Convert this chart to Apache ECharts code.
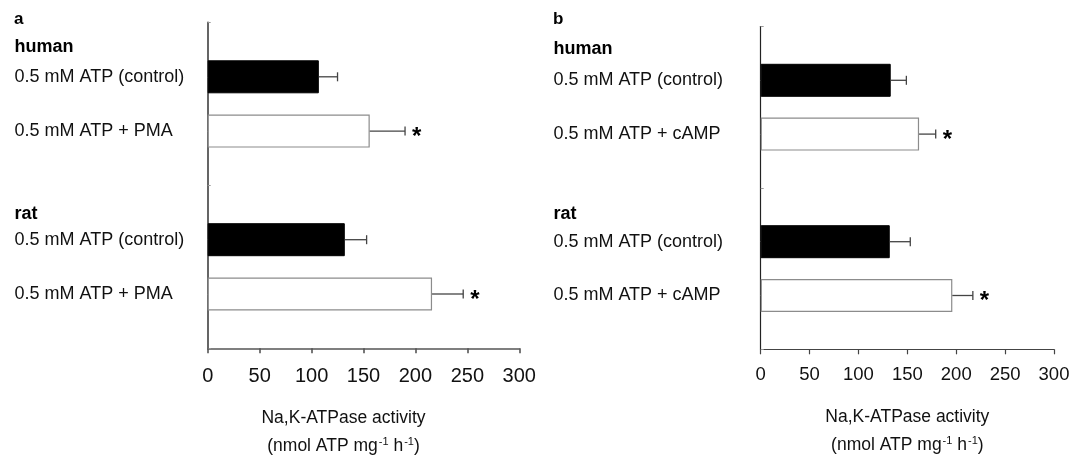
<!DOCTYPE html>
<html>
<head>
<meta charset="utf-8">
<script src="https://cdn.jsdelivr.net/npm/echarts@6/dist/echarts.min.js"></script>
<style>
html,body{margin:0;padding:0;background:#fff;}
#c{width:1070px;height:455px;}
</style>
</head>
<body>
<div id="c"></div>
<script>
// ---- data ----
const xTicks = [0, 50, 100, 150, 200, 250, 300];
const groups = ['human', 'rat'];
const condA = ['0.5 mM ATP (control)', '0.5 mM ATP + PMA'];
const condB = ['0.5 mM ATP (control)', '0.5 mM ATP + cAMP'];
// order: human control, human treated, rat control, rat treated
const meanA = [107, 156, 132, 216];
const semA  = [18, 34, 21, 30];
const meanB = [133, 162, 132, 196];
const semB  = [16, 17, 21, 21];
const signif = [false, true, false, true];

const FONT = 'Liberation Sans, Arial, sans-serif';

// build 7-slot category list: gap, ctrl, treat, gap, ctrl, treat, gap
function slots(cond) {
  return ['', cond[0], cond[1], '', cond[0], cond[1], ''];
}
const slotIndex = [1, 2, 4, 5];

function barData(means) {
  const d = [null, null, null, null, null, null, null];
  means.forEach((m, i) => {
    const ctrl = i % 2 === 0;
    d[slotIndex[i]] = {
      value: m,
      itemStyle: ctrl
        ? { color: '#000', borderColor: '#000', borderWidth: 1 }
        : { color: '#fff', borderColor: '#8c8c8c', borderWidth: 1.2 }
    };
  });
  return d;
}
function errData(means, sems) {
  return means.map((m, i) => [m, slotIndex[i], sems[i], signif[i] ? 1 : 0]);
}

function renderErr(params, api) {
  const m = api.value(0), c = api.value(1), s = api.value(2), sig = api.value(3);
  const p0 = api.coord([m, c]);
  const p1 = api.coord([m + s, c]);
  const cap = 4.5;
  const children = [
    { type: 'line', shape: { x1: p0[0], y1: p0[1], x2: p1[0], y2: p1[1] },
      style: { stroke: '#444', lineWidth: 1.3 } },
    { type: 'line', shape: { x1: p1[0], y1: p1[1] - cap, x2: p1[0], y2: p1[1] + cap },
      style: { stroke: '#444', lineWidth: 1.3 } }
  ];
  if (sig) {
    children.push({ type: 'text', style: { text: '*', x: p1[0] + 7, y: p1[1] + 6,
      font: 'bold 24px ' + FONT, fill: '#000', align: 'left', verticalAlign: 'middle' } });
  }
  return { type: 'group', children };
}

function xAxisCfg(gridIndex, fs, margin, nameGap, lw, col, padRight) {
  return {
    type: 'value', gridIndex, min: 0, max: 300, interval: 50,
    axisLine: { show: true, lineStyle: { color: col, width: lw } },
    axisTick: { show: true, length: 5, lineStyle: { color: col, width: lw } },
    splitLine: { show: false },
    axisLabel: { fontSize: fs, color: '#111', fontFamily: FONT, margin,
      customValues: xTicks },
    name: '{n|Na,K-ATPase activity}\n{n|(nmol ATP mg}{s|-1}{n| h}{s|-1}{n|)}',
    nameLocation: 'middle', nameGap,
    nameTextStyle: {
      fontFamily: FONT, color: '#111', padding: [0, padRight, 0, 0],
      rich: {
        n: { fontSize: 17.5, fontFamily: FONT, color: '#111', lineHeight: 28 },
        s: { fontSize: 11, fontFamily: FONT, color: '#111', lineHeight: 28, verticalAlign: 'top', padding: [4, 0, 0, 1] }
      }
    }
  };
}
function yAxisCfg(gridIndex, cond, margin, lw, col) {
  return {
    type: 'category', gridIndex, data: slots(cond), inverse: true, boundaryGap: false,
    axisLine: { show: true, lineStyle: { color: col, width: lw } },
    axisTick: { show: true, inside: true, length: 3, lineStyle: { color: '#999' } },
    axisLabel: { align: 'left', margin, fontSize: 18, color: '#111', fontFamily: FONT,
      interval: 0, padding: [3, 0, 0, 0] },
    splitLine: { show: false }
  };
}

const chart = echarts.init(document.getElementById('c'), null, { renderer: 'canvas' });
const option = {
  backgroundColor: '#fff',
  animation: false,
  grid: [
    { left: 207.7, top: 22.5, width: 311.6, height: 325.8, containLabel: false, outerBoundsMode: 'none' },
    { left: 760.7, top: 26.5, width: 293.3, height: 322.8, containLabel: false, outerBoundsMode: 'none' }
  ],
  xAxis: [
    xAxisCfg(0, 20, 18, 56, 1.6, '#555', 40),
    xAxisCfg(1, 18.5, 16, 54, 1.2, '#444', 0)
  ],
  yAxis: [
    yAxisCfg(0, condA, 193.2, 1.8, '#555'),
    yAxisCfg(1, condB, 207.3, 1.2, '#222')
  ],
  graphic: [
    { type: 'text', left: 14, top: 11, style: { text: 'a', font: 'bold 17px ' + FONT, fill: '#000' } },
    { type: 'text', left: 553, top: 11, style: { text: 'b', font: 'bold 17px ' + FONT, fill: '#000' } },
    { type: 'text', left: 14.5, top: 38, style: { text: groups[0], font: 'bold 18px ' + FONT, fill: '#000' } },
    { type: 'text', left: 14.5, top: 205, style: { text: groups[1], font: 'bold 18px ' + FONT, fill: '#000' } },
    { type: 'text', left: 553.4, top: 40, style: { text: groups[0], font: 'bold 18px ' + FONT, fill: '#000' } },
    { type: 'text', left: 553.4, top: 205, style: { text: groups[1], font: 'bold 18px ' + FONT, fill: '#000' } }
  ],
  series: [
    { type: 'bar', xAxisIndex: 0, yAxisIndex: 0, data: barData(meanA), barWidth: 33 },
    { type: 'bar', xAxisIndex: 1, yAxisIndex: 1, data: barData(meanB), barWidth: 33 },
    { type: 'custom', xAxisIndex: 0, yAxisIndex: 0, data: errData(meanA, semA),
      encode: { x: 0, y: 1 }, renderItem: renderErr, z: 5 },
    { type: 'custom', xAxisIndex: 1, yAxisIndex: 1, data: errData(meanB, semB),
      encode: { x: 0, y: 1 }, renderItem: renderErr, z: 5 }
  ]
};
chart.setOption(option);
</script>
</body>
</html>
